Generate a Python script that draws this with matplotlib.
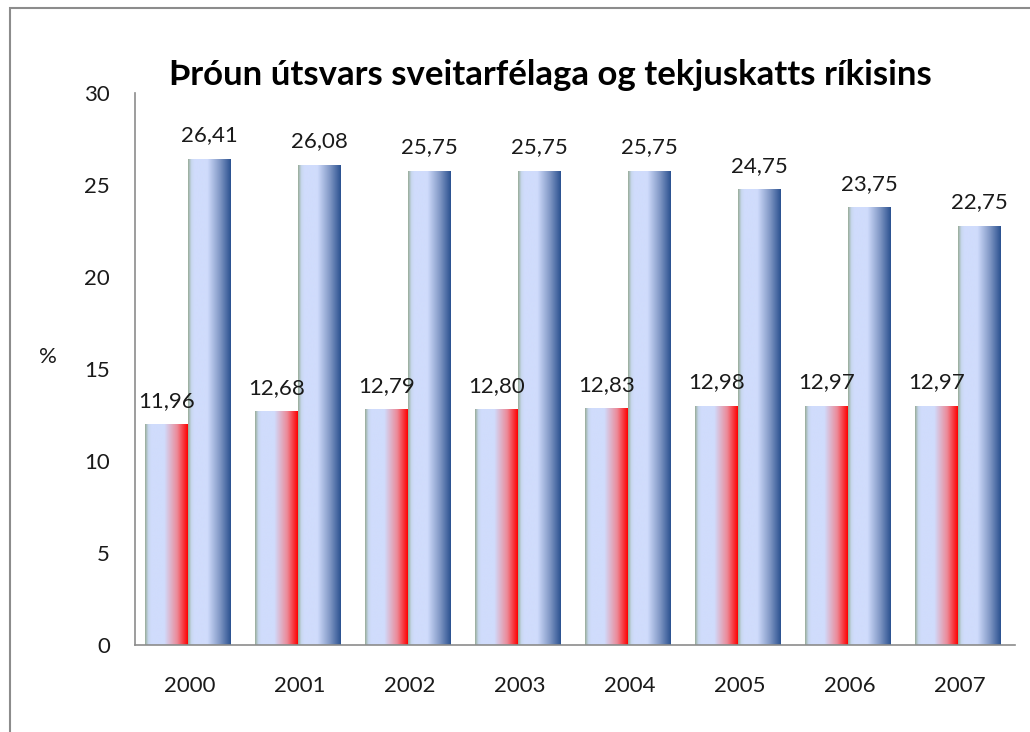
import numpy as np
import matplotlib
matplotlib.use("Agg")
import matplotlib.pyplot as plt
from matplotlib.colors import LinearSegmentedColormap
from matplotlib.patches import Rectangle

years = ["2000", "2001", "2002", "2003", "2004", "2005", "2006", "2007"]
utsvar = [11.96, 12.68, 12.79, 12.80, 12.83, 12.98, 12.97, 12.97]
tekjuskattur = [26.41, 26.08, 25.75, 25.75, 25.75, 24.75, 23.75, 22.75]
yticks = [0, 5, 10, 15, 20, 25, 30]

plt.rcParams['font.family'] = ['Lato', 'DejaVu Sans']

# horizontal gradients like the excel bars
red_cmap = LinearSegmentedColormap.from_list("red", [
    (0.0, "#98ac98"), (0.08, "#c8d8f0"), (0.15, "#d0dcfc"),
    (0.45, "#d0dcfc"), (0.75, "#ec8a98"), (1.0, "#ff0000")])
blue_cmap = LinearSegmentedColormap.from_list("blue", [
    (0.0, "#98ac98"), (0.08, "#c8d8f0"), (0.15, "#d0dcfc"),
    (0.45, "#d0dcfc"), (0.75, "#7f96c4"), (1.0, "#2a5190")])
grad = np.linspace(0, 1, 256).reshape(1, -1)

fig = plt.figure(figsize=(10.3, 7.32), dpi=100)
ax = fig.add_axes([0.1311, 0.1189, 0.8543, 0.7541])

# outer chart frame
fig.patches.append(Rectangle((10 / 1030, -0.1), 1.2, 1 - 8 / 732 + 0.1,
                             transform=fig.transFigure, fill=False,
                             edgecolor="#8c8c8c", linewidth=1.5))

x = np.arange(len(years))
w = 0.39
off = -0.015
for i in x:
    for val, cmap, shift in ((utsvar[i], red_cmap, -w), (tekjuskattur[i], blue_cmap, 0)):
        x0 = i + off + shift
        ax.imshow(grad, cmap=cmap, extent=(x0, x0 + w, 0, val),
                  aspect="auto", interpolation="bilinear", zorder=2)
        ax.text(x0 + w / 2, val + 0.75, f"{val:.2f}".replace(".", ","),
                ha="center", va="bottom", fontsize=16, color="#1a1a1a")

ax.set_xlim(-0.5, len(years) - 0.5)
ax.set_ylim(0, 30)
ax.set_xticks(x)
ax.set_xticklabels(years)
ax.set_yticks(yticks)
ax.tick_params(length=0, labelsize=16, colors="#1a1a1a")
ax.tick_params(axis="x", pad=22)
ax.tick_params(axis="y", pad=18)
for s in ("top", "right"):
    ax.spines[s].set_visible(False)
for s in ("left", "bottom"):
    ax.spines[s].set_color("#8c8c8c")
    ax.spines[s].set_linewidth(1.2)

fig.text(48 / 1030, 1 - 357 / 732, "%", fontsize=16, ha="center", va="center", color="#1a1a1a")
fig.text(550 / 1030, 1 - 75 / 732, "Þróun útsvars sveitarfélaga og tekjuskatts ríkisins",
         fontsize=25, fontweight="bold", ha="center", va="center")

fig.savefig("out.png", dpi=100)
